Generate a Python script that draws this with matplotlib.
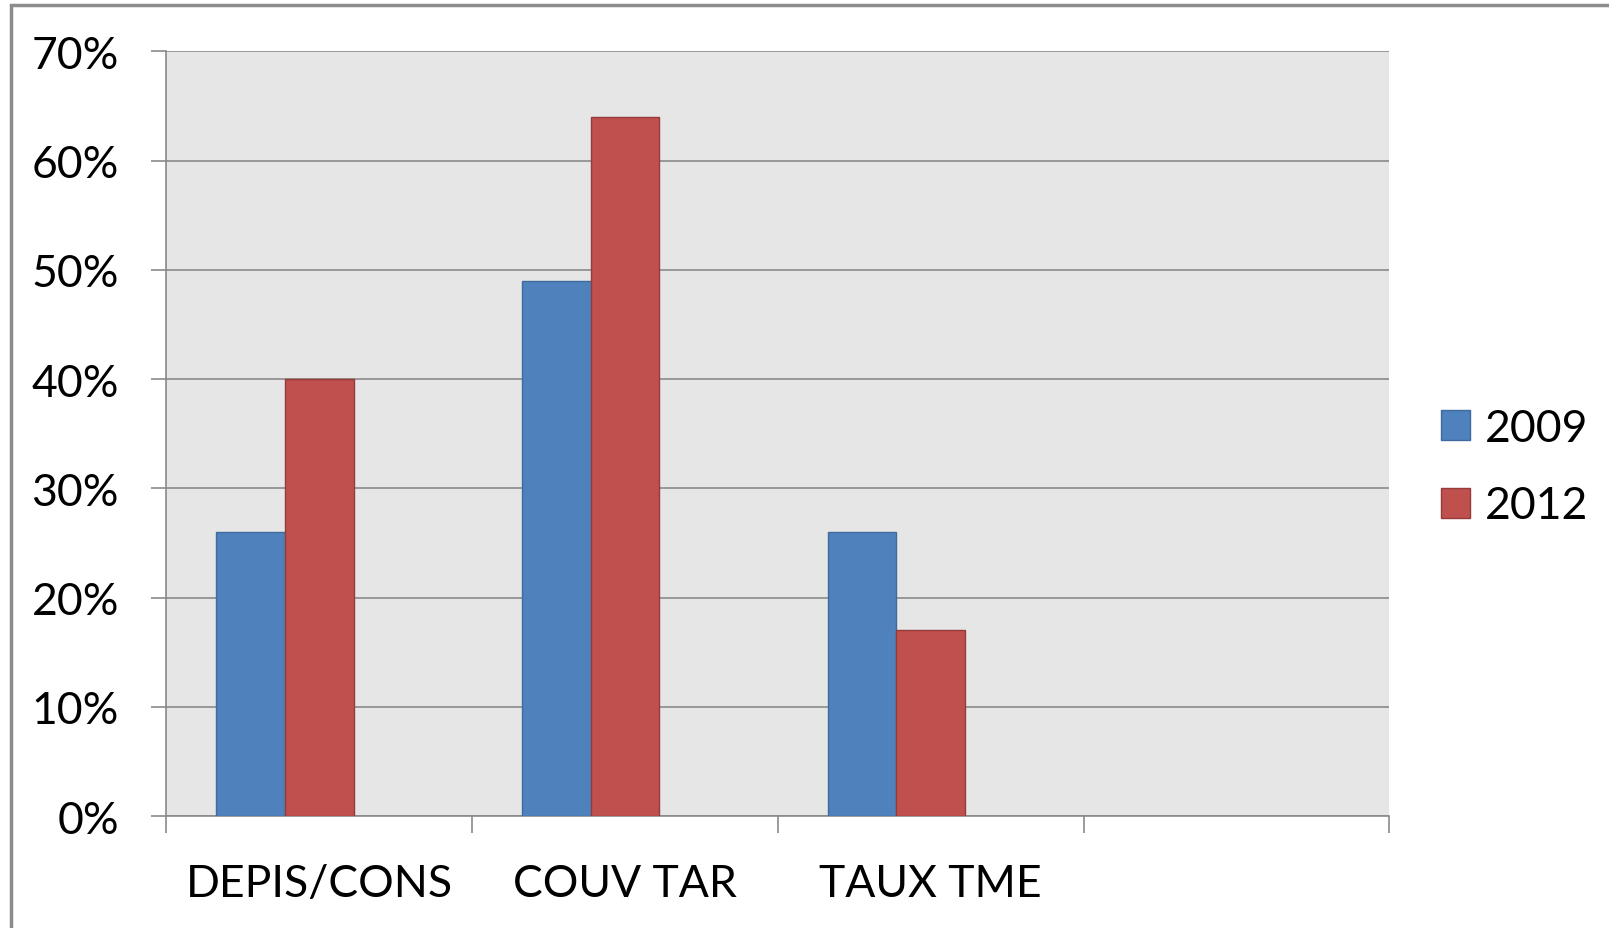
import matplotlib.pyplot as plt
import matplotlib.patches as mpatches
import numpy as np

plt.rcParams['font.family'] = ['Lato', 'DejaVu Sans']

categories = ["DEPIS/CONS", "COUV TAR", "TAUX TME", ""]
val_2009 = [26, 49, 26, np.nan]
val_2012 = [40, 64, 17, np.nan]
series = ["2009", "2012"]

W, H = 1568, 905  # repere de mesure sur l'image de reference

fig = plt.figure(figsize=(16.09, 9.29), dpi=100)
ax = fig.add_axes([162 / W, 1 - 796 / H, (1354 - 162) / W, (796 - 51) / H])

# cadre exterieur du graphique
fig.patches.append(mpatches.Rectangle((10.5 / W, -0.1), 1.2, 1 - 6 / H + 0.1,
                                      transform=fig.transFigure, fill=False,
                                      edgecolor='#8c8c8c', linewidth=2.5))

x = np.arange(len(categories))
w = 0.225
ax.bar(x - w, val_2009, width=w, align='center', color='#4F81BD',
       edgecolor='#3f6a9e', linewidth=1, label=series[0], zorder=3)
ax.bar(x, val_2012, width=w, align='center', color='#C0504D',
       edgecolor='#953b39', linewidth=1, label=series[1], zorder=3)

ax.set_facecolor('#e6e6e6')
ax.set_xlim(-0.5, 3.5)
ax.set_ylim(0, 70)
ax.set_yticks(np.arange(0, 71, 10))
ax.set_yticklabels([f"{v}%" for v in range(0, 71, 10)])
ax.yaxis.grid(True, color='#8a8a8a', linewidth=1.2, zorder=0)
ax.set_axisbelow(True)

ax.set_xticks(x)
ax.set_xticklabels(categories)
ax.set_xticks(np.arange(-0.5, 4, 1), minor=True)
ax.tick_params(axis='x', which='major', length=0, pad=34, labelsize=32)
ax.tick_params(axis='x', which='minor', length=12, width=1.2, color='#8a8a8a')
ax.tick_params(axis='y', length=11, width=1.2, color='#8a8a8a', pad=23, labelsize=32)

for s in ['top', 'right']:
    ax.spines[s].set_visible(False)
for s in ['left', 'bottom']:
    ax.spines[s].set_color('#8a8a8a')
    ax.spines[s].set_linewidth(1.2)

ax.legend(loc='center left', bbox_to_anchor=(1404 / W, 1 - 456 / H),
          bbox_transform=fig.transFigure, frameon=False, borderpad=0,
          borderaxespad=0, fontsize=32, handlelength=0.65, handleheight=0.65,
          handletextpad=0.35, labelspacing=0.82)

fig.savefig('out.png', dpi=100)
